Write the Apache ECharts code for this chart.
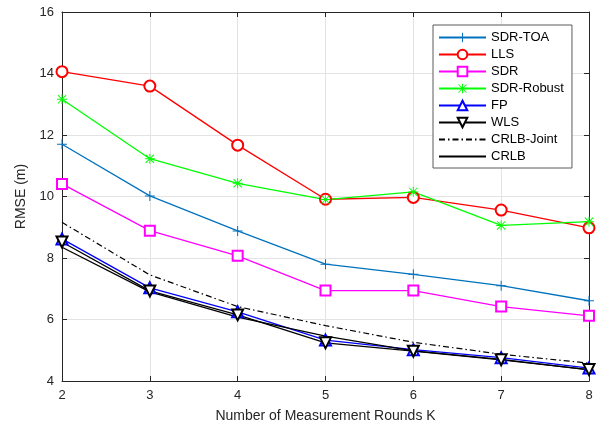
<!DOCTYPE html>
<html>
<head>
<meta charset="utf-8">
<script src="https://cdn.jsdelivr.net/npm/echarts@6/dist/echarts.min.js"></script>
<style>
html,body{margin:0;padding:0;background:#fff;}
#c{width:599px;height:429px;}
</style>
</head>
<body>
<div id="c"></div>
<script>
const K = [2, 3, 4, 5, 6, 7, 8];
const sdrToa    = [11.70, 10.02, 8.88, 7.80, 7.47, 7.10, 6.61];
const lls       = [14.06, 13.59, 11.67, 9.91, 9.97, 9.56, 8.98];
const sdr       = [10.41, 8.89, 8.07, 6.94, 6.94, 6.42, 6.12];
const sdrRobust = [13.16, 11.23, 10.43, 9.90, 10.15, 9.06, 9.18];
const fp        = [8.62, 7.03, 6.25, 5.33, 5.02, 4.76, 4.42];
const wls       = [8.52, 6.93, 6.15, 5.24, 4.97, 4.69, 4.37];
const crlbJoint = [9.16, 7.45, 6.42, 5.80, 5.26, 4.87, 4.58];
const crlb      = [8.35, 6.90, 6.08, 5.46, 4.98, 4.70, 4.36];
const yTicks = [4, 6, 8, 10, 12, 14, 16];

const pair = arr => K.map((k, i) => [k, arr[i]]);
const plusPath = 'path://M4.5,0H5.5V4.5H10V5.5H5.5V10H4.5V5.5H0V4.5H4.5Z';
const starPath = 'path://M4.5,0H5.5V4.5H10V5.5H5.5V10H4.5V5.5H0V4.5H4.5Z M1.2,0.5L9.5,8.8L8.8,9.5L0.5,1.2Z M8.8,0.5L9.5,1.2L1.2,9.5L0.5,8.8Z';

function mk(name, data, color, symbol, size, extra) {
  return Object.assign({
    name: name, type: 'line', data: pair(data),
    symbol: symbol, symbolSize: size, showSymbol: symbol !== 'none',
    lineStyle: {color: color, width: 1.3},
    itemStyle: {color: color, borderColor: color, borderWidth: 1.3},
    emphasis: {disabled: true}, animation: false, z: 3
  }, extra || {});
}

const series = [
  mk('SDR-TOA', sdrToa, '#0072BD', plusPath, 10, {itemStyle: {color: '#0072BD', borderWidth: 0}}),
  mk('LLS', lls, '#FF0000', 'emptyCircle', 11),
  mk('SDR', sdr, '#FF00FF', 'emptyRect', 10),
  mk('SDR-Robust', sdrRobust, '#00FF00', starPath, 10, {itemStyle: {color: '#00FF00', borderWidth: 0}}),
  mk('FP', fp, '#0000FF', 'emptyTriangle', 11),
  mk('WLS', wls, '#000000', 'emptyTriangle', 11, {symbolRotate: 180}),
  mk('CRLB-Joint', crlbJoint, '#000000', 'none', 0, {lineStyle: {color: '#000', width: 1.2, type: [6, 3, 1.5, 3]}}),
  mk('CRLB', crlb, '#000000', 'none', 0, {lineStyle: {color: '#000', width: 1.3}})
];

const legendData = series.map(s => s.symbol === 'none'
  ? {name: s.name, itemStyle: {opacity: 0, color: 'rgba(0,0,0,0)', borderColor: 'rgba(0,0,0,0)'}}
  : {name: s.name});

const axisCol = '#262626';
const chart = echarts.init(document.getElementById('c'), null, {renderer: 'canvas'});
chart.setOption({
  backgroundColor: '#fff',
  animation: false,
  grid: {left: 62, right: 10, top: 12, bottom: 48, containLabel: false},
  legend: {
    orient: 'vertical', left: 433, top: 25,
    backgroundColor: '#fff', borderColor: '#5a5a5a', borderWidth: 1,
    padding: [6, 8, 5, 5],
    itemWidth: 47, itemHeight: 12, itemGap: 4,
    textStyle: {fontFamily: 'Liberation Sans, Arial', fontSize: 13, color: '#000', lineHeight: 12, height: 12},
    data: legendData
  },
  xAxis: [{
    type: 'value', min: 2, max: 8, interval: 1,
    name: 'Number of Measurement Rounds K', nameLocation: 'middle', nameGap: 28,
    nameTextStyle: {fontFamily: 'Liberation Sans, Arial', fontSize: 14, color: axisCol},
    axisLine: {show: true, lineStyle: {color: axisCol, width: 1}},
    axisTick: {show: true, inside: true, length: 5, lineStyle: {color: axisCol}},
    axisLabel: {fontFamily: 'Liberation Sans, Arial', fontSize: 13, color: axisCol, margin: 8},
    splitLine: {show: true, lineStyle: {color: '#e3e3e3', width: 1}}
  }, {
    type: 'value', min: 2, max: 8, interval: 1, position: 'top',
    axisLine: {show: true, lineStyle: {color: axisCol, width: 1}},
    axisTick: {show: true, inside: true, length: 5, lineStyle: {color: axisCol}},
    axisLabel: {show: false}, splitLine: {show: false}
  }],
  yAxis: [{
    type: 'value', min: yTicks[0], max: yTicks[yTicks.length - 1], interval: 2,
    name: 'RMSE (m)', nameLocation: 'middle', nameGap: 32, nameRotate: 90,
    nameTextStyle: {fontFamily: 'Liberation Sans, Arial', fontSize: 14, color: axisCol},
    axisLine: {show: true, lineStyle: {color: axisCol, width: 1}},
    axisTick: {show: true, inside: true, length: 5, lineStyle: {color: axisCol}},
    axisLabel: {fontFamily: 'Liberation Sans, Arial', fontSize: 13, color: axisCol, margin: 8},
    splitLine: {show: true, lineStyle: {color: '#e3e3e3', width: 1}}
  }, {
    type: 'value', min: yTicks[0], max: yTicks[yTicks.length - 1], interval: 2, position: 'right',
    axisLine: {show: true, lineStyle: {color: axisCol, width: 1}},
    axisTick: {show: true, inside: true, length: 5, lineStyle: {color: axisCol}},
    axisLabel: {show: false}, splitLine: {show: false}
  }],
  series: series
});
</script>
</body>
</html>
